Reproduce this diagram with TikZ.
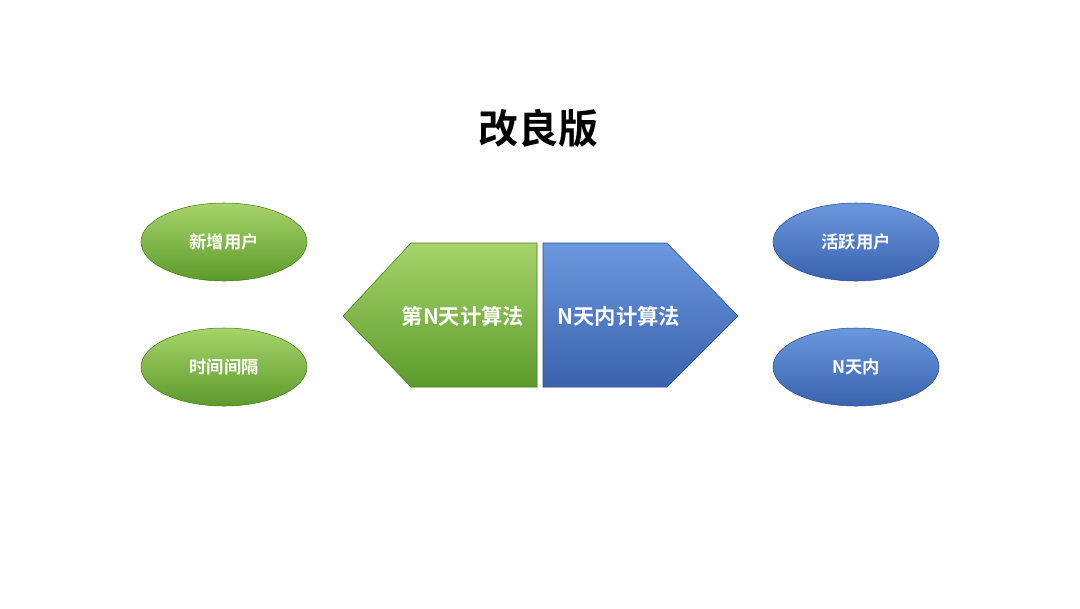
\documentclass[tikz,border=0pt]{standalone}
\usepackage{fontspec}
\setmainfont{Noto Sans CJK SC}[BoldFont={Noto Sans CJK SC Bold}]
\usetikzlibrary{shapes.geometric}
\definecolor{gtop}{HTML}{A6D46A}
\definecolor{gbot}{HTML}{5C9A2C}
\definecolor{btop}{HTML}{6A98DE}
\definecolor{bbot}{HTML}{3A62AE}
\tikzset{
  gell/.style={ellipse,minimum width=124.5pt,minimum height=58.5pt,top color=gtop,bottom color=gbot,draw=gbot!80!black,line width=0.4pt,text=white,font=\bfseries\fontsize{13}{15}\selectfont},
  bell/.style={gell,top color=btop,bottom color=bbot,draw=bbot!80!black},
  lbl/.style={text=white,font=\bfseries\fontsize{16}{19}\selectfont},
}
\begin{document}
\begin{tikzpicture}[x=0.75pt,y=-0.75pt]
\useasboundingbox (0,0) rectangle (1080,608);
\fill[white] (0,0) rectangle (1080,608);
\node[font=\bfseries\fontsize{30}{34}\selectfont] (title) at (538,128) {改良版};
\node[gell] (n1) at (224,242) {新增用户};
\node[gell] (n2) at (224,367) {时间间隔};
\node[bell] (n3) at (856,242) {活跃用户};
\node[bell] (n4) at (856,367) {N天内};
\shade[top color=gtop,bottom color=gbot,draw=gbot!80!black] (343,316) -- (411,243) -- (537,243) -- (537,387) -- (411,387) -- cycle;
\shade[top color=btop,bottom color=bbot,draw=bbot!80!black] (543,243) -- (667,243) -- (738,316) -- (667,387) -- (543,387) -- cycle;
\node[lbl] (a1) at (463,316) {第N天计算法};
\node[lbl] (a2) at (619,316) {N天内计算法};
\end{tikzpicture}
\end{document}
